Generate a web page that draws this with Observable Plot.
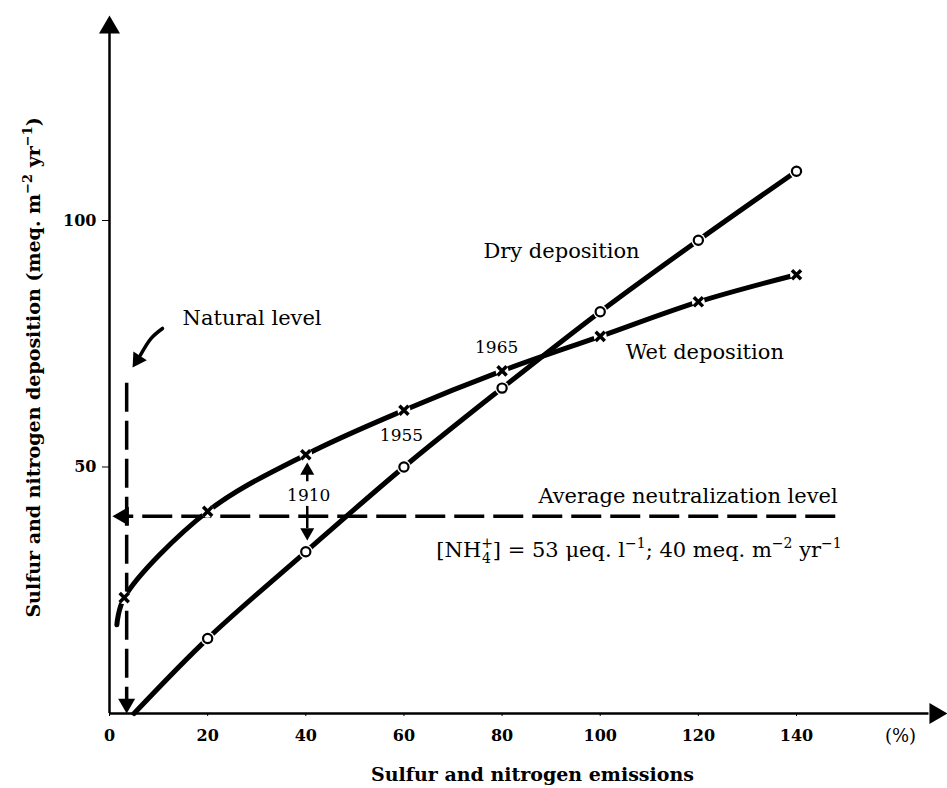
<!DOCTYPE html>
<html>
<head>
<meta charset="utf-8">
<script src="https://cdn.jsdelivr.net/npm/d3@7"></script>
<script src="https://cdn.jsdelivr.net/npm/@observablehq/plot@0.6"></script>
<style>
  html, body { margin: 0; padding: 0; background: #fff; }
  #chart svg { display: block; }
</style>
</head>
<body>
<div id="chart"></div>
<script>
// Emissions (% of present) and deposition (meq. m-2 yr-1)
const wetEmission = [1.5, 3, 20, 40, 60, 80, 100, 120, 140];
const wetDeposition = [18, 23.5, 41, 52.5, 61.5, 69.5, 76.5, 83.5, 89];
const dryEmission = [5, 20, 40, 60, 80, 100, 120, 140];
const dryDeposition = [0, 15.2, 32.8, 50, 66, 81.5, 96, 110];

// Axis ticks
const xTicks = [0, 20, 40, 60, 80, 100, 120, 140];
const yTicks = [50, 100];

// Reference levels
const naturalLevel = 3.5;        // natural emission level (%)
const neutralizationLevel = 40;  // average neutralization level (meq. m-2 yr-1)
const year1910 = 40.3;           // emission level in 1910

// Label texts
const yTitle = "Sulfur and nitrogen deposition (meq. m\u207B\u00B2 yr\u207B\u00B9)";
const xTitle = "Sulfur and nitrogen emissions";
const nh4Label = "[NH\u2084\u207A] = 53 \u03BCeq. l\u207B\u00B9; 40 meq. m\u207B\u00B2 yr\u207B\u00B9";

const wet = wetEmission.map((x, i) => ({x, y: wetDeposition[i]}));
const dry = dryEmission.map((x, i) => ({x, y: dryDeposition[i]}));
const wetMarkers = wet.slice(1);
const dryMarkers = dry.slice(1);

const ink = "#000";

// Filled triangular arrowhead with its tip at (x, y)
function head(x, y, angle, side) {
  const off = side / Math.sqrt(3);
  const a = angle * Math.PI / 180;
  return Plot.dot([{x, y}], {
    x: "x", y: "y", symbol: "triangle", r: side * 0.3713, rotate: angle,
    dx: -off * Math.sin(a), dy: off * Math.cos(a), fill: ink, stroke: "none"
  });
}

// Curved pointer from the "Natural level" label
const naturalPointer = [
  {x: 10.8, y: 78.1},
  {x: 8.4, y: 76.0},
  {x: 6.3, y: 72.7}
];

const serif = "DejaVu Serif";

const chart = Plot.plot({
  width: 947,
  height: 788,
  marginLeft: 109,
  marginRight: 151,
  marginTop: 220,
  marginBottom: 75,
  x: {domain: [0, 140]},
  y: {domain: [0, 100]},
  style: {fontFamily: serif, background: "#fff", color: ink, overflow: "visible"},
  marks: [
    // axes with arrowheads
    Plot.ruleY([0], {x1: 0, x2: 167, stroke: ink, strokeWidth: 2.5}),
    Plot.ruleX([0], {y1: 0, y2: 138, stroke: ink, strokeWidth: 2.5}),
    head(170.8, 0, 90, 21),
    head(0, 141.6, 0, 21),
    Plot.axisX({ticks: xTicks, tickSize: 3, tickPadding: 13, fontSize: 16, fontWeight: "bold", label: null, tickFormat: d => String(d)}),
    Plot.axisY({ticks: yTicks, tickSize: 7, tickPadding: 6, fontSize: 16, fontWeight: "bold", label: null}),
    Plot.text(["(%)"], {x: 161.2, y: 0, dy: 23, text: d => d, fontSize: 18}),
    Plot.text([xTitle], {x: 86.2, y: 0, dy: 61, text: d => d, fontSize: 19, fontWeight: "bold"}),
    Plot.text([yTitle], {x: -15.5, y: 70.2, rotate: -90, text: d => d, fontSize: 19, fontWeight: "bold"}),

    // natural level (vertical dashed) and neutralization level (horizontal dashed)
    Plot.ruleX([naturalLevel], {y1: 67, y2: 2.8, stroke: ink, strokeWidth: 3.5, strokeDasharray: "29,9"}),
    head(naturalLevel, 0, 180, 17),
    Plot.ruleY([neutralizationLevel], {x1: 148, x2: 3, stroke: ink, strokeWidth: 3.5, strokeDasharray: "30,9"}),
    head(0.6, neutralizationLevel, 270, 19),

    // deposition curves
    Plot.line(wet, {x: "x", y: "y", curve: "catmull-rom", stroke: ink, strokeWidth: 5, strokeLinecap: "round"}),
    Plot.line(dry, {x: "x", y: "y", curve: "catmull-rom", stroke: ink, strokeWidth: 5, strokeLinecap: "round"}),
    Plot.dot(wetMarkers, {x: "x", y: "y", r: 6.5, fill: "#fff", stroke: "none"}),
    Plot.dot(dryMarkers, {x: "x", y: "y", r: 7, fill: "#fff", stroke: "none"}),
    Plot.dot(wetMarkers, {x: "x", y: "y", symbol: "times", r: 4.2, stroke: ink, strokeWidth: 3.5}),
    Plot.dot(dryMarkers, {x: "x", y: "y", symbol: "circle", r: 4.6, fill: "#fff", stroke: ink, strokeWidth: 2.2}),

    // 1910 arrows between wet deposition and the neutralization level
    Plot.ruleX([year1910], {y1: 47, y2: 49.5, stroke: ink, strokeWidth: 2.5}),
    head(year1910, 50.9, 0, 14),
    Plot.ruleX([year1910], {y1: 42, y2: 37.5, stroke: ink, strokeWidth: 2.5}),
    head(year1910, 35.1, 180, 14),

    // pointer to the natural level
    Plot.line(naturalPointer, {x: "x", y: "y", curve: "natural", stroke: ink, strokeWidth: 3.5}),
    head(4.7, 70.2, 213, 16),

    // labels
    Plot.text(["Natural level"], {x: 14.9, y: 80.1, text: d => d, textAnchor: "start", fontSize: 21}),
    Plot.text(["Dry deposition"], {x: 76.2, y: 93.7, text: d => d, textAnchor: "start", fontSize: 21}),
    Plot.text(["Wet deposition"], {x: 105.2, y: 73.2, text: d => d, textAnchor: "start", fontSize: 21}),
    Plot.text(["Average neutralization level"], {x: 87.4, y: 44.0, text: d => d, textAnchor: "start", fontSize: 21}),
    Plot.text([nh4Label], {x: 66.6, y: 33.1, text: d => d, textAnchor: "start", fontSize: 21}),
    Plot.text(["1910"], {x: 40.6, y: 44.2, text: d => d, fontSize: 17}),
    Plot.text(["1955"], {x: 59.5, y: 56.4, text: d => d, fontSize: 17}),
    Plot.text(["1965"], {x: 78.9, y: 74.2, text: d => d, fontSize: 17})
  ]
});

// Typeset unit exponents and the ion charge as raised / lowered tspans
function typeset(svg, plain, parts) {
  const el = Array.from(svg.querySelectorAll("text")).find(t => t.textContent === plain);
  if (!el) return;
  const target = el.querySelector("tspan") || el;
  target.textContent = "";
  for (const p of parts) {
    const ts = document.createElementNS("http://www.w3.org/2000/svg", "tspan");
    ts.textContent = p.t;
    if (p.dx) ts.setAttribute("dx", p.dx);
    if (p.dy) ts.setAttribute("dy", p.dy);
    if (p.size) ts.setAttribute("font-size", p.size);
    target.appendChild(ts);
  }
}

typeset(chart, nh4Label, [
  {t: "[NH"},
  {t: "+", size: 14, dy: -9},
  {t: "4", size: 14, dx: -11, dy: 15},
  {t: "]", dx: 2, dy: -6},
  {t: " = 53 \u03BCeq. l"},
  {t: "\u22121", size: 14, dy: -9},
  {t: "; 40 meq. m", dy: 9},
  {t: "\u22122", size: 14, dy: -9},
  {t: " yr", dy: 9},
  {t: "\u22121", size: 14, dy: -9}
]);

typeset(chart, yTitle, [
  {t: "Sulfur and nitrogen deposition (meq. m"},
  {t: "\u22122", size: 13, dy: -8},
  {t: " yr", dy: 8},
  {t: "\u22121", size: 13, dy: -8},
  {t: ")", dy: 8}
]);

document.getElementById("chart").appendChild(chart);
</script>
</body>
</html>
